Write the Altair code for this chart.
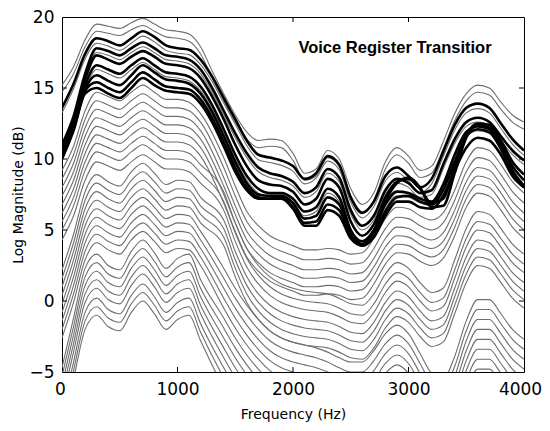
import altair as alt
import pandas as pd

# ---------------- data ----------------
freq = list(range(0, 4001, 100))          # 41 frequency points, Hz

# topmost grey spectrum
top_gray = [15.2, 16.5, 18.4, 19.5, 19.35, 19.2, 19.6, 19.9, 19.5, 19.1,
            19.0, 18.8, 17.9, 16.2, 14.6, 13.1, 11.9, 11.3, 11.4, 11.3,
            10.4, 9.0, 9.3, 10.6, 10.0, 7.9, 6.8, 7.6, 9.8, 10.8,
            10.2, 9.2, 9.5, 11.2, 13.2, 14.6, 15.2, 15.0, 14.0, 13.1, 12.6]
top_gray_offsets = [0.0, -0.5]

# thick black spectra (voice register transition)
thick1 = [13.6, 15.3, 17.4, 18.5, 18.3, 18.0, 18.5, 19.0, 18.6, 18.0,
          17.8, 17.7, 17.0, 15.8, 14.3, 12.8, 11.3, 10.3, 10.1, 9.9,
          9.5, 8.6, 9.0, 10.2, 9.6, 7.3, 6.2, 7.0, 8.8, 9.4,
          8.8, 8.0, 8.6, 10.5, 12.4, 13.6, 13.9, 13.6, 12.5, 11.4, 10.6]
thick2 = [11.0, 13.0, 16.0, 17.8, 17.6, 17.3, 17.8, 18.2, 17.8, 17.3,
          17.2, 17.0, 16.3, 15.0, 13.4, 11.8, 10.4, 9.4, 9.0, 8.8,
          8.4, 7.6, 8.0, 9.3, 8.7, 6.4, 5.3, 6.0, 7.8, 8.6,
          8.3, 7.6, 7.8, 9.6, 11.4, 12.6, 12.9, 12.6, 11.6, 10.6, 9.9]
thick3 = [10.6, 12.7, 15.6, 17.3, 17.0, 16.7, 17.2, 17.6, 17.2, 16.7,
          16.6, 16.4, 15.7, 14.4, 12.8, 11.0, 9.5, 8.5, 8.2, 8.1,
          7.7, 6.8, 7.2, 8.6, 8.0, 5.6, 4.6, 5.4, 7.3, 8.4,
          8.6, 7.9, 6.9, 7.2, 9.5, 11.7, 12.5, 12.4, 11.3, 9.8, 8.9]
thick4 = [10.3, 12.4, 15.2, 16.6, 16.3, 16.0, 16.6, 17.1, 16.6, 16.1,
          16.0, 15.8, 15.1, 13.8, 12.1, 10.3, 8.8, 7.9, 7.6, 7.6,
          7.2, 6.3, 6.6, 7.9, 7.3, 5.0, 4.2, 5.0, 6.8, 7.7,
          7.6, 7.2, 7.0, 8.2, 10.3, 11.9, 12.3, 12.1, 11.0, 9.5, 8.5]
thick5 = [10.2, 12.2, 14.9, 15.9, 15.5, 15.2, 15.9, 16.6, 16.1, 15.6,
          15.5, 15.3, 14.6, 13.3, 11.6, 9.8, 8.3, 7.5, 7.4, 7.4,
          6.9, 5.8, 6.0, 7.3, 6.8, 4.8, 4.0, 4.9, 7.0, 8.3,
          8.7, 8.0, 6.6, 6.7, 9.0, 11.5, 12.4, 12.2, 10.9, 9.2, 8.1]
thick6 = [10.1, 12.1, 14.8, 15.4, 15.0, 14.7, 15.4, 16.1, 15.6, 15.1,
          15.0, 14.9, 14.2, 12.9, 11.2, 9.4, 8.0, 7.3, 7.2, 7.3,
          6.6, 5.5, 5.6, 6.8, 6.4, 4.6, 3.9, 4.6, 6.3, 7.3,
          7.4, 7.0, 6.8, 7.8, 9.8, 11.6, 12.1, 11.9, 10.7, 9.0, 8.0]
thick7 = [10.0, 12.0, 14.6, 15.0, 14.6, 14.3, 15.0, 15.7, 15.2, 14.8,
          14.7, 14.6, 13.9, 12.6, 10.9, 9.1, 7.8, 7.2, 7.2, 7.2,
          6.5, 5.3, 5.3, 6.4, 6.0, 4.4, 3.9, 4.5, 6.0, 7.0,
          7.0, 6.6, 6.5, 7.4, 9.2, 10.8, 11.5, 11.3, 10.3, 8.8, 8.0]
thick_curves = [thick1, thick2, thick3, thick4, thick5, thick6, thick7]

# grey spectra lying between the thick ones: (thick index, offset in dB)
between_thick = [(0, -0.35), (1, -0.3), (3, -0.3)]

# grey family below: low-frequency part (0-1200 Hz), relative to the 700 Hz peak
plateau_hi = [-6.0, -4.3, -1.8, -0.5, -0.8, -1.1, -0.5, 0.0, -0.5, -1.0, -1.0, -1.2, -2.0]
plateau_mid = [-7.5, -5.0, -2.0, -0.8, -1.3, -1.6, -0.6, 0.0, -0.7, -1.5, -1.2, -1.3, -2.4]
plateau_lo = [-9.0, -5.5, -2.0, -1.0, -1.8, -2.1, -0.8, 0.0, -0.9, -2.0, -1.3, -1.0, -2.8]
# high-frequency part (1400-4000 Hz), relative to the 2900 Hz value
tail_hi = [3.5, 1.5, -0.3, -1.3, -2.0, -2.4, -2.7, -3.0, -3.0, -2.9,
           -3.0, -3.3, -3.2, -2.2, -0.8, 0.0, -0.1, -0.6, -0.9, -0.4,
           1.2, 3.2, 4.2, 4.0, 3.0, 1.8, 1.0]
tail_mid = [5.0, 2.8, 1.0, -0.2, -1.0, -1.5, -1.8, -2.0, -2.1, -2.2,
            -2.5, -2.9, -3.0, -2.2, -0.8, 0.0, -0.4, -1.4, -2.1, -1.8,
            0.2, 2.4, 3.6, 3.4, 2.4, 1.3, 0.6]
tail_lo = [4.0, 2.6, 1.4, 0.4, -0.4, -0.9, -1.2, -1.4, -1.6, -1.9,
           -2.3, -2.6, -2.6, -1.8, -0.6, 0.0, -0.6, -2.0, -3.4, -3.8,
           -2.2, 0.3, 1.8, 1.8, 0.8, -0.3, -1.0]
# per-curve level at 700 Hz and at 2900 Hz
gray_levels_700 = [15.2, 14.6, 14.0, 13.4, 12.8, 12.2, 11.6, 11.0, 10.3, 9.7,
                   9.1, 8.5, 7.9, 7.3, 6.7, 6.1, 5.5, 4.9, 4.3, 3.7,
                   3.1, 2.5, 1.9, 1.2, 0.6, 0.0]
gray_levels_2900 = [6.6, 5.9, 5.2, 4.6, 4.0, 3.4, 2.7, 2.0, 1.4, 0.7,
                    0.1, -0.5, -1.1, -1.7, -2.4, -3.1, -3.8, -4.5, -5.2, -5.9,
                    -6.6, -7.3, -8.0, -8.7, -9.4, -10.1]
gray_plateau_shape = ["hi"] * 9 + ["mid"] * 9 + ["lo"] * 8
gray_tail_shape = ["hi"] * 6 + ["mid"] * 7 + ["lo"] * 13

x_label_values = [0, 1000, 2000, 3000, 4000]
y_label_values = [-5, 0, 5, 10, 15, 20]
x_ticks = [1000, 2000, 3000]
y_ticks = [0, 5, 10, 15]
title_text = "Voice Register Transitior"

# ---------------- build long table ----------------
rows = []

def add(curve, kind, fs, vals):
    for f, v in zip(fs, vals):
        rows.append({"curve": curve, "kind": kind, "f": f, "db": v})

for k, off in enumerate(top_gray_offsets):
    add(f"top{k}", "gray", freq, [v + off for v in top_gray])
for k, (ti, off) in enumerate(between_thick):
    add(f"btw{k}", "gray", freq, [v + off for v in thick_curves[ti]])

plateaus = {"hi": plateau_hi, "mid": plateau_mid, "lo": plateau_lo}
tails = {"hi": tail_hi, "mid": tail_mid, "lo": tail_lo}
low_f = freq[:13]
high_f = freq[14:]
for i, (l7, l29) in enumerate(zip(gray_levels_700, gray_levels_2900)):
    p = plateaus[gray_plateau_shape[i]]
    t = tails[gray_tail_shape[i]]
    add(f"g{i}", "gray", low_f + high_f, [v + l7 for v in p] + [v + l29 for v in t])

for k, c in enumerate(thick_curves):
    add(f"thick{k}", "thick", freq, c)

df = pd.DataFrame(rows)

W, H = 462, 355
xscale = alt.Scale(domain=[0, 4000], nice=False)
yscale = alt.Scale(domain=[-5, 20], nice=False, zero=False)

xaxis = alt.Axis(values=x_label_values, format="d", labelFontSize=17,
                 labelFont="DejaVu Sans", labelColor="black", labelFlush=False,
                 labelOffset={"condition": [{"test": "datum.value == 4000", "value": -4},
                                            {"test": "datum.value == 0", "value": -2}],
                              "value": 0},
                 labelPadding=9, ticks=False, domain=False, grid=False,
                 title="Frequency (Hz)", titleFont="DejaVu Sans", titleFontSize=14,
                 titleFontWeight="normal", titleColor="black", titlePadding=10)
yaxis = alt.Axis(values=y_label_values, format="d", labelFontSize=17,
                 labelFont="DejaVu Sans", labelColor="black", labelPadding=8,
                 ticks=False, domain=False, grid=False,
                 title="Log Magnitude (dB)", titleFont="DejaVu Sans", titleFontSize=14,
                 titleFontWeight="normal", titleColor="black", titlePadding=3)

base = alt.Chart(df)
gray = base.transform_filter(alt.datum.kind == "gray").mark_line(
    color="#6e6e6e", strokeWidth=1.1, clip=True, interpolate="monotone"
).encode(
    x=alt.X("f:Q", scale=xscale, axis=xaxis),
    y=alt.Y("db:Q", scale=yscale, axis=yaxis),
    detail="curve:N",
)
thick = base.transform_filter(alt.datum.kind == "thick").mark_line(
    color="black", strokeWidth=2.6, clip=True, interpolate="monotone"
).encode(x="f:Q", y="db:Q", detail="curve:N")

xt = pd.DataFrame({"t": x_ticks})
yt = pd.DataFrame({"t": y_ticks})
tick_b = alt.Chart(xt).mark_rule(color="black").encode(
    x="t:Q", y=alt.value(H), y2=alt.value(H - 5))
tick_t = alt.Chart(xt).mark_rule(color="black").encode(
    x="t:Q", y=alt.value(0), y2=alt.value(5))
tick_l = alt.Chart(yt).mark_rule(color="black").encode(
    y="t:Q", x=alt.value(0), x2=alt.value(5))
tick_r = alt.Chart(yt).mark_rule(color="black").encode(
    y="t:Q", x=alt.value(W), x2=alt.value(W - 5))

title = alt.Chart(pd.DataFrame({"label": [title_text]})).mark_text(
    font="Liberation Sans", fontWeight="bold", fontSize=16.5, color="black",
    align="center", baseline="middle"
).encode(x=alt.value(333), y=alt.value(30.5), text="label:N")

chart = alt.layer(gray, thick, tick_b, tick_t, tick_l, tick_r, title).properties(
    width=W, height=H,
    autosize=alt.AutoSizeParams(type="none"),
    padding={"left": 54, "top": 9, "right": 18, "bottom": 51},
    background="white",
).configure_view(stroke="black", strokeWidth=1)

chart.save("out.html", embed_options={"renderer": "svg", "actions": False})
